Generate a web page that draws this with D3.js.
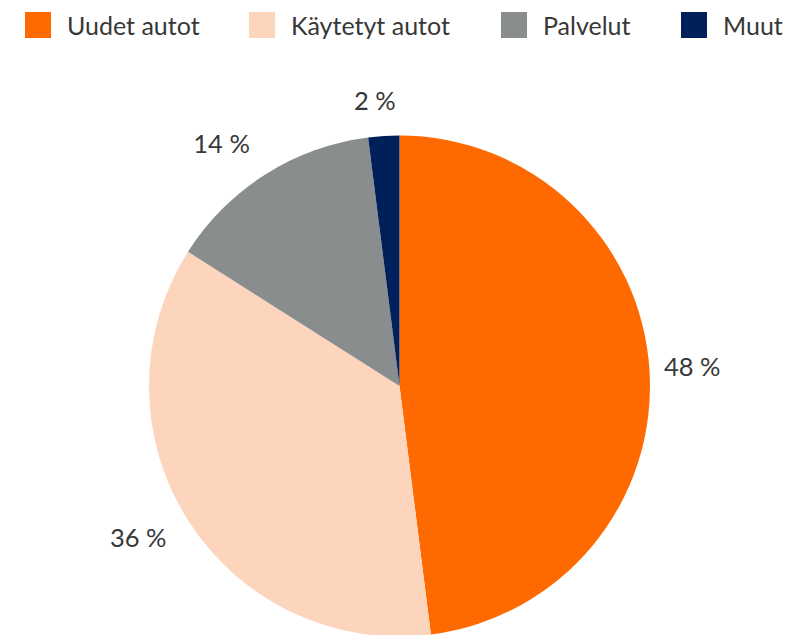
<!DOCTYPE html>
<html><head><meta charset="utf-8">
<script src="https://cdn.jsdelivr.net/npm/d3@7"></script>
<style>body{margin:0;background:#fff}svg{display:block}text{font-family:Lato,"Open Sans",sans-serif;font-weight:400;fill:#383838}</style>
</head><body><svg id="c" width="785" height="635"></svg>
<script>
const categories = ["Uudet autot", "Käytetyt autot", "Palvelut", "Muut"];
const values = [48, 36, 14, 2];
const labels = ["48 %", "36 %", "14 %", "2 %"];
const colors = ["#FF6A00", "#FCD5BC", "#8A8D8E", "#00205B"];

const svg = d3.select("#c");
const cx = 399.5, cy = 386, r = 250.5;
const data = categories.map((c, i) => ({cat: c, value: values[i], label: labels[i], color: colors[i]}));

// legend
const legX = d3.scaleOrdinal().domain(categories).range([25, 249, 501, 681]);
const leg = svg.append("g").selectAll("g").data(data).join("g")
  .attr("transform", d => `translate(${legX(d.cat)},12)`);
leg.append("rect").attr("width", 26).attr("height", 26).attr("fill", d => d.color);
leg.append("text").attr("x", 42).attr("y", 23).attr("font-size", 25).text(d => d.cat);

const pie = d3.pie().sort(null).value(d => d.value);
const arc = d3.arc().innerRadius(0).outerRadius(r);
const arcs = pie(data);
const g = svg.append("g").attr("transform", `translate(${cx},${cy})`);
g.selectAll("path").data(arcs).join("path").attr("d", arc).attr("fill", d => d.data.color);

const R = 270;
const clamp = v => Math.max(-1, Math.min(1, v));
g.selectAll("text.lbl").data(arcs).join("text").attr("class", "lbl")
  .attr("font-size", 25.5).attr("text-anchor", "middle").attr("dominant-baseline", "central")
  .text(d => d.data.label)
  .each(function(d) {
    const a = (d.startAngle + d.endAngle) / 2;
    const ux = Math.sin(a), uy = -Math.cos(a);
    const bb = this.getBBox();
    const x = R * ux + bb.width / 2 * clamp(ux * 2) - 5;
    const y = R * uy + bb.height / 2 * uy - 2;
    d3.select(this).attr("x", x).attr("y", y);
  });
</script></body></html>
